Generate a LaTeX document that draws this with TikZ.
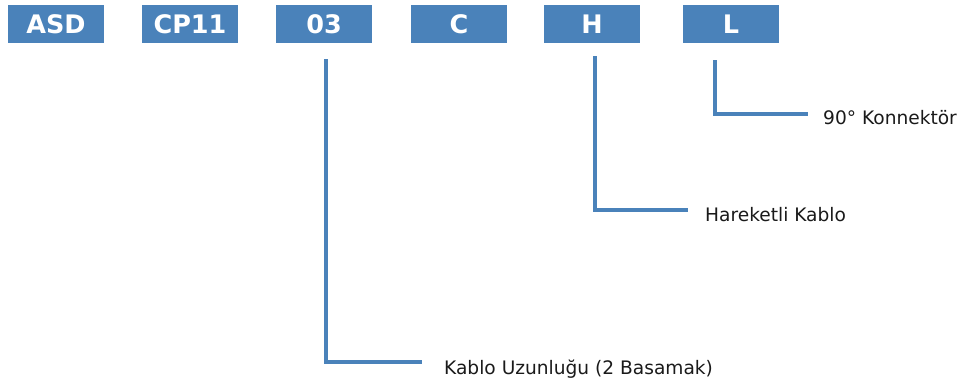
\documentclass[tikz,border=0pt]{standalone}
\usepackage{fontspec}
\setmainfont{DejaVu Sans}
\definecolor{codeblue}{HTML}{4A82BA}
\definecolor{labelgray}{HTML}{1A1A1A}
\begin{document}
\begin{tikzpicture}[x=1pt,y=-1pt,
  codebox/.style={fill=codeblue,draw=none,minimum width=96pt,minimum height=38pt,inner sep=0pt,
    text=white,font=\fontsize{25.5}{28}\selectfont\bfseries},
  leader/.style={draw=codeblue,line width=4pt},
  desc/.style={anchor=base west,inner sep=0pt,text=labelgray,font=\fontsize{18.6}{21}\selectfont}]
\useasboundingbox (0,0) rectangle (963,383);
\node[codebox] (asd) at (56,24) {ASD};
\node[codebox] (cp) at (190,24) {CP11};
\node[codebox] (len) at (324,24) {03};
\node[codebox] (c) at (459,24) {C};
\node[codebox] (h) at (592,24) {H};
\node[codebox] (l) at (731,24) {L};
\coordinate (s03) at (326,59);
\coordinate (e03) at (422,362);
\coordinate (sH) at (595,56);
\coordinate (eH) at (688,210);
\coordinate (sL) at (715,60);
\coordinate (eL) at (808,114);
\node[desc] (dlen) at (444,374) {Kablo Uzunluğu (2 Basamak)};
\node[desc] (dh) at (705,221) {Hareketli Kablo};
\node[desc] (dl) at (823,124) {90° Konnektör};
\draw[leader] (s03) |- (e03);
\draw[leader] (sH) |- (eH);
\draw[leader] (sL) |- (eL);
\end{tikzpicture}
\end{document}
